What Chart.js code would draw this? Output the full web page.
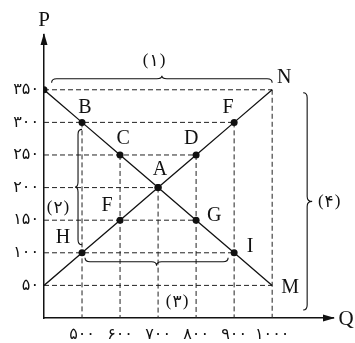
<!DOCTYPE html>
<html><head><meta charset="utf-8">
<script src="https://cdn.jsdelivr.net/npm/chart.js@4.4.1/dist/chart.umd.min.js"></script>
<style>html,body{margin:0;padding:0;background:#fff}canvas{display:block}</style>
</head><body>
<canvas id="c" width="355" height="343"></canvas>
<script>
// ---- data ----
const demandQ = [400, 500, 600, 700, 800, 900, 1000];
const demandP = [350, 300, 250, 200, 150, 100, 50];
const supplyQ = [400, 500, 600, 700, 800, 900, 1000];
const supplyP = [50, 100, 150, 200, 250, 300, 350];
const demandDot = [true, true, true, true, true, true, false];
const supplyDot = [false, true, true, true, true, true, false];
const xTicks = [500, 600, 700, 800, 900, 1000];
const yTicks = [50, 100, 150, 200, 250, 300, 350];
const pointNames = [
  ['B', 500, 300], ['C', 600, 250], ['A', 700, 200], ['D', 800, 250], ['F', 900, 300],
  ['N', 1000, 350], ['F', 600, 150], ['H', 500, 100], ['G', 800, 150], ['I', 900, 100], ['M', 1000, 50]
];
const braceNames = ['(۱)', '(۲)', '(۳)', '(۴)'];

const fa = n => String(n).replace(/\d/g, d => '۰۱۲۳۴۵۶۷۸۹'[d]);

// build guide lines from the data
const allPts = demandQ.map((q, i) => ({x: q, y: demandP[i]})).concat(supplyQ.map((q, i) => ({x: q, y: supplyP[i]})));
const guides = [];
yTicks.forEach(p => {
  const qs = allPts.filter(o => o.y === p).map(o => o.x);
  if (qs.length) guides.push([{x: 400, y: p}, {x: Math.max(...qs), y: p}]);
});
xTicks.forEach(q => {
  const ps = allPts.filter(o => o.x === q).map(o => o.y);
  if (ps.length) guides.push([{x: q, y: Math.max(...ps)}, {x: q, y: 0}]);
});

const datasets = guides.map(g => ({
  data: g, showLine: true, borderColor: '#222', borderWidth: 1, borderDash: [5, 3],
  pointRadius: 0, order: 3
}));
datasets.push({
  data: demandQ.map((q, i) => ({x: q, y: demandP[i]})), showLine: true, borderColor: '#111', borderWidth: 1.3,
  pointRadius: demandDot.map(d => d ? 3.5 : 0), pointBackgroundColor: '#111', pointBorderWidth: 0, order: 1
});
datasets.push({
  data: supplyQ.map((q, i) => ({x: q, y: supplyP[i]})), showLine: true, borderColor: '#111', borderWidth: 1.3,
  pointRadius: supplyDot.map(d => d ? 3.5 : 0), pointBackgroundColor: '#111', pointBorderWidth: 0, order: 1
});

// label pixel offsets (style)
const nameOffsets = [[3,-15],[3,-16],[2,-18],[-5,-16],[-6,-15],[12,-12],[-13,-14],[-19,-15],[18,-4],[16,-6],[18,2]];

const deco = {
  id: 'deco',
  afterDatasetsDraw(chart) {
    const {ctx, chartArea: a, scales: {x, y}} = chart;
    const X = v => x.getPixelForValue(v), Y = v => y.getPixelForValue(v);
    ctx.save();
    ctx.fillStyle = '#111'; ctx.strokeStyle = '#111';
    // arrows
    ctx.beginPath(); ctx.moveTo(a.left, a.top - 2); ctx.lineTo(a.left - 3.5, a.top + 10); ctx.lineTo(a.left + 3.5, a.top + 10); ctx.closePath(); ctx.fill();
    ctx.beginPath(); ctx.moveTo(a.right + 2, a.bottom); ctx.lineTo(a.right - 10, a.bottom - 3.5); ctx.lineTo(a.right - 10, a.bottom + 3.5); ctx.closePath(); ctx.fill();
    ctx.font = '21px "Liberation Serif"'; ctx.textAlign = 'center'; ctx.textBaseline = 'middle';
    ctx.fillText('P', a.left, 20);
    ctx.fillText('Q', a.right + 13, a.bottom + 1);
    // point names
    ctx.font = '20px "Liberation Serif"';
    pointNames.forEach((p, i) => {
      ctx.fillText(p[0], X(p[1]) + nameOffsets[i][0], Y(p[2]) + nameOffsets[i][1]);
    });
    // braces
    function brace(x1, y1, x2, y2, nx, ny, q, t, r) {
      const L = Math.hypot(x2 - x1, y2 - y1), ux = (x2 - x1) / L, uy = (y2 - y1) / L;
      const P = (u, v) => [x1 + ux * u + nx * v, y1 + uy * u + ny * v];
      const m = L / 2;
      ctx.beginPath();
      ctx.moveTo(...P(0, 0));
      ctx.quadraticCurveTo(...P(0, q), ...P(r, q));
      ctx.lineTo(...P(m - r, q));
      ctx.quadraticCurveTo(...P(m, q), ...P(m, q + t));
      ctx.quadraticCurveTo(...P(m, q), ...P(m + r, q));
      ctx.lineTo(...P(L - r, q));
      ctx.quadraticCurveTo(...P(L, q), ...P(L, 0));
      ctx.lineWidth = 1.1; ctx.stroke();
    }
    brace(X(420), Y(350) - 7, X(1000), Y(350) - 7, 0, -1, 4, 3, 5);
    brace(X(1000) + 31, Y(350) + 3, X(1000) + 31, Y(0) - 8, 1, 0, 4, 5, 5);
    brace(X(500), Y(300) + 7, X(500), Y(100) - 8, -1, 0, 4, 3, 5);
    brace(X(500) + 3, Y(100) + 5, X(900) - 6, Y(100) + 5, 0, 1, 4, 4, 5);
    const lbl = (s, px, py) => {
      const d = s.slice(1, -1);
      ctx.font = '17px "Liberation Serif"';
      const pw = ctx.measureText('(').width;
      ctx.font = '17px "DejaVu Sans"';
      const dw = ctx.measureText(d).width;
      const tot = 2 * pw + dw + 2;
      let cx = px - tot / 2;
      ctx.textAlign = 'left';
      ctx.font = '17px "Liberation Serif"';
      ctx.fillText('(', cx, py); cx += pw + 1;
      ctx.font = '17px "DejaVu Sans"';
      ctx.fillText(d, cx, py + 1); cx += dw + 1;
      ctx.font = '17px "Liberation Serif"';
      ctx.fillText(')', cx, py);
      ctx.textAlign = 'center';
    };
    lbl(braceNames[0], X(700) - 4, Y(350) - 29);
    lbl(braceNames[1], X(400) + 14, Y(200) + 20);
    lbl(braceNames[2], X(700) + 19, Y(50) + 16);
    lbl(braceNames[3], X(1000) + 57, Y(200) + 14);
    ctx.restore();
  }
};

new Chart(document.getElementById('c'), {
  type: 'scatter',
  data: {datasets},
  options: {
    responsive: false, animation: false, devicePixelRatio: 1,
    layout: {padding: {top: 35, right: 22, left: 0, bottom: 0}},
    plugins: {legend: {display: false}, tooltip: {enabled: false}},
    scales: {
      x: {
        type: 'linear', min: 400, max: 1160,
        grid: {display: false, drawTicks: false},
        border: {display: true, color: '#111', width: 1.5},
        afterBuildTicks: s => { s.ticks = xTicks.map(v => ({value: v})); },
        afterFit: s => { s.height = 25; },
        ticks: {callback: v => fa(v), color: '#111', font: {family: 'DejaVu Sans', size: 16}, padding: 7, maxRotation: 0, autoSkip: false}
      },
      y: {
        type: 'linear', min: 0, max: 434,
        grid: {display: false, drawTicks: false},
        border: {display: true, color: '#111', width: 1.5},
        afterBuildTicks: s => { s.ticks = yTicks.map(v => ({value: v})); },
        afterFit: s => { s.width = 44; },
        ticks: {callback: v => fa(v), color: '#111', font: {family: 'DejaVu Sans', size: 16}, padding: 5, autoSkip: false}
      }
    }
  },
  plugins: [deco]
});
</script>
</body></html>
